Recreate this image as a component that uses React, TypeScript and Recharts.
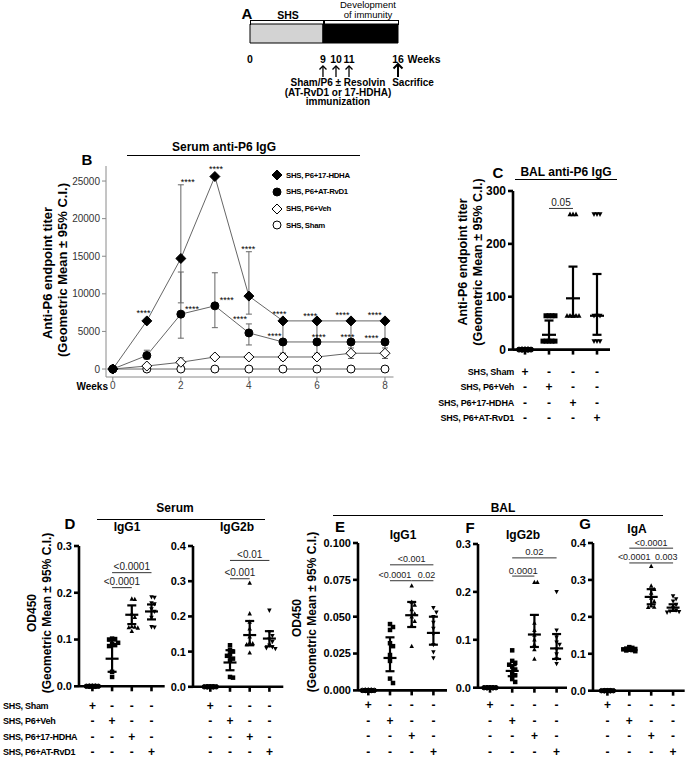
import {
  Bar,
  BarChart,
  ComposedChart,
  ErrorBar,
  Line,
  ReferenceLine,
  Scatter,
  ScatterChart,
  XAxis,
  YAxis,
} from "recharts"

const FONT = '"Liberation Sans", Arial, Helvetica, sans-serif'

// ---------- A: study timeline (weeks)
const timelineTicks = [0, 9, 10, 11, 16]
const timelineSegments = [{ k: "t", shs: 9, immunity: 7 }]
const immunizationWeeks = [9, 10, 11]
const sacrificeWeek = 16
// schematic, not to scale: where each tick sits along the bar (fraction of length)
const timelineStops = [0, 0.493, 0.581, 0.669, 1]

// ---------- B: serum anti-P6 IgG over time
const weeks = [0, 1, 2, 3, 4, 5, 6, 7, 8]
const hdhaTiter = [0, 6400, 14700, 25600, 9700, 6400, 6400, 6400, 6400]
const hdhaLo = [null, null, 8800, null, 7300, null, null, null, null]
const hdhaHi = [null, null, 24500, null, 15600, null, null, null, null]
const rvd1Titer = [0, 1800, 7300, 8400, 4800, 3600, 3600, 3600, 3600]
const rvd1Lo = [null, 1300, 4100, 5500, 3200, 2100, 2100, 2100, 2100]
const rvd1Hi = [null, 2500, 12900, 12800, 6000, 6400, 6400, 6400, 6400]
const vehTiter = [0, 400, 900, 1600, 1600, 1600, 1600, 2100, 2100]
const vehLo = [null, null, 500, null, null, 1200, null, 1400, 1400]
const vehHi = [null, null, 1500, null, null, 2100, null, 2800, 2800]
const shamTiter = [0, 0, 0, 0, 0, 0, 0, 0, 0]
const starWeeks = [0.9, 2.2, 2.33, 3.03, 3.35, 3.98, 3.74, 4.9, 4.75, 5.8, 6.05, 6.75, 6.9, 7.7, 7.6]
const starTiters = [7700, 25100, 8200, 26900, 9400, 16200, 6900, 7600, 4650, 7300, 4500, 7450, 4500, 7450, 4400]

const groupNames = ["SHS, Sham", "SHS, P6+Veh", "SHS, P6+17-HDHA", "SHS, P6+AT-RvD1"]

// significance bars: [from group, to group, height, p text, label shift px]
type Sig = [number, number, number, string, number]

// ---------- C: BAL anti-P6 IgG
const cSham = [0, 0, 0, 0, 0, 0, 0, 0]
const cVeh = [64, 64, 64, 64, 16, 16, 16, 16, 16]
const cHdha = [256, 256, 256, 64, 64, 64, 64, 64, 64]
const cRvd1 = [256, 256, 256, 64, 64, 64, 16, 16, 16]
const cMean = [0, 28, 97, 64]
const cLo = [0, 16, 64, 28]
const cHi = [0, 55, 157, 143]
const cSig: Sig[] = [[2, 3, 267, "0.05", 0]]

// ---------- D: serum IgG1 / IgG2b (OD450)
const zeros8 = [0, 0, 0, 0, 0, 0, 0, 0]
const d1Veh = [0.102, 0.101, 0.1, 0.093, 0.09, 0.088, 0.086, 0.031, 0.02]
const d1Hdha = [0.187, 0.186, 0.155, 0.148, 0.128, 0.127, 0.126, 0.125, 0.118]
const d1Rvd1 = [0.191, 0.19, 0.178, 0.176, 0.165, 0.16, 0.147, 0.127, 0.126]
const d1Mean = [0, 0.059, 0.153, 0.16]
const d1Lo = [0, 0.031, 0.133, 0.143]
const d1Hi = [0, 0.098, 0.173, 0.175]
const d1Sig: Sig[] = [
  [2, 3, 0.211, "<0.0001", 0],
  [2, 4, 0.243, "<0.0001", 0],
]

const d2Veh = [0.118, 0.105, 0.1, 0.092, 0.088, 0.08, 0.075, 0.028, 0.026]
const d2Hdha = [0.295, 0.208, 0.184, 0.165, 0.142, 0.125, 0.123, 0.12, 0.097]
const d2Rvd1 = [0.217, 0.156, 0.145, 0.135, 0.128, 0.118, 0.113, 0.11, 0.108]
const d2Mean = [0, 0.069, 0.147, 0.137]
const d2Lo = [0, 0.047, 0.118, 0.115]
const d2Hi = [0, 0.104, 0.187, 0.158]
const d2Sig: Sig[] = [
  [2, 3, 0.307, "<0.001", 0],
  [2, 4, 0.359, "<0.01", 0],
]

// ---------- E/F/G: BAL IgG1 / IgG2b / IgA (OD450)
const eVeh = [0.045, 0.043, 0.041, 0.032, 0.03, 0.024, 0.02, 0.008, 0.005]
const eHdha = [0.071, 0.06, 0.058, 0.055, 0.052, 0.05, 0.047, 0.044, 0.03]
const eRvd1 = [0.056, 0.053, 0.05, 0.046, 0.042, 0.038, 0.031, 0.026, 0.022]
const eMean = [0, 0.022, 0.051, 0.039]
const eLo = [0, 0.013, 0.043, 0.031]
const eHi = [0, 0.036, 0.06, 0.05]
const eSig: Sig[] = [
  [2, 4, 0.0852, "<0.001", 0],
  [2, 3, 0.0744, "<0.0001", -6],
  [3, 4, 0.0744, "0.02", 4],
]

const fVeh = [0.078, 0.056, 0.052, 0.048, 0.044, 0.038, 0.03, 0.026, 0.018, 0.012]
const fHdha = [0.22, 0.22, 0.135, 0.12, 0.11, 0.1, 0.09, 0.08, 0.06]
const fRvd1 = [0.2, 0.12, 0.105, 0.095, 0.09, 0.08, 0.07, 0.06, 0.05]
const fMean = [0, 0.035, 0.111, 0.082]
const fLo = [0, 0.024, 0.085, 0.06]
const fHi = [0, 0.047, 0.152, 0.112]
const fSig: Sig[] = [
  [2, 4, 0.271, "0.02", 0],
  [2, 3, 0.233, "0.0001", 0],
]

const gVeh = [0.118, 0.116, 0.114, 0.113, 0.112, 0.111, 0.11, 0.109, 0.107]
const gHdha = [0.337, 0.284, 0.275, 0.265, 0.251, 0.242, 0.23, 0.227, 0.226]
const gRvd1 = [0.256, 0.248, 0.242, 0.233, 0.224, 0.218, 0.215, 0.214, 0.212]
const gMean = [0, 0.111, 0.254, 0.225]
const gLo = [0, 0.108, 0.234, 0.216]
const gHi = [0, 0.114, 0.275, 0.234]
const gSig: Sig[] = [
  [2, 4, 0.386, "<0.0001", 0],
  [2, 3, 0.346, "<0.0001", -6],
  [3, 4, 0.346, "0.003", 4],
]

// ---------- helpers
function err(m: number, lo: number | null, hi: number | null) {
  return lo == null || hi == null ? null : [m - lo, hi - m]
}

const serumRows = weeks.map((w, i) => ({
  w,
  hdha: hdhaTiter[i],
  hdhaErr: err(hdhaTiter[i], hdhaLo[i], hdhaHi[i]),
  rvd1: rvd1Titer[i],
  rvd1Err: err(rvd1Titer[i], rvd1Lo[i], rvd1Hi[i]),
  veh: vehTiter[i],
  vehErr: err(vehTiter[i], vehLo[i], vehHi[i]),
  sham: shamTiter[i],
}))
const stars = starWeeks.map((w, i) => ({ w, v: starTiters[i] }))

// piecewise scale so the schematic timeline can space its ticks like the drawing
function schematicScale(knots: number[], stops: number[], dom = [0, 1], rng = [0, 1]): any {
  const f: any = (v: number) => {
    let t = v <= knots[0] ? stops[0] : stops[stops.length - 1]
    for (let i = 0; i < knots.length - 1; i++) {
      if (v >= knots[i] && v <= knots[i + 1]) {
        t = stops[i] + ((v - knots[i]) / (knots[i + 1] - knots[i])) * (stops[i + 1] - stops[i])
        break
      }
    }
    return rng[0] + t * (rng[1] - rng[0])
  }
  f.domain = (d?: number[]) => (d ? schematicScale(knots, stops, d, rng) : dom)
  f.range = (r?: number[]) => (r ? schematicScale(knots, stops, dom, r) : rng)
  f.copy = () => schematicScale(knots, stops, dom, rng)
  f.ticks = () => knots
  f.invert = (px: number) => knots[0] + ((px - rng[0]) / (rng[1] - rng[0])) * (knots[knots.length - 1] - knots[0])
  return f
}

function T({ x, y, s = 12, b = true, a = "middle", ls, children }: any) {
  const tx = a === "middle" ? "-50%" : a === "end" ? "-100%" : "0"
  return (
    <div
      style={{
        position: "absolute",
        left: x,
        top: y,
        transform: `translate(${tx},-50%)`,
        fontSize: s,
        fontWeight: b ? 700 : 400,
        whiteSpace: "nowrap",
        lineHeight: 1,
        letterSpacing: ls,
      }}
    >
      {children}
    </div>
  )
}

function VT({ x, y, s = 12, children }: any) {
  return (
    <div
      style={{
        position: "absolute",
        left: x,
        top: y,
        transform: "translate(-50%,-50%) rotate(-90deg)",
        fontSize: s,
        fontWeight: 700,
        whiteSpace: "nowrap",
        lineHeight: 1,
      }}
    >
      {children}
    </div>
  )
}

function HL({ x1, x2, y }: any) {
  return <div style={{ position: "absolute", left: x1, top: y, width: x2 - x1, borderTop: "1px solid #000" }} />
}

function Mark({ kind, cx, cy, s = 4.5, fill = "#000" }: any) {
  if (cx == null || cy == null) return <g />
  const h = s / 2
  if (kind === "sq") return <rect x={cx - h} y={cy - h} width={s} height={s} fill={fill} />
  if (kind === "up")
    return <polygon points={`${cx},${cy - h * 1.1} ${cx + h},${cy + h * 0.8} ${cx - h},${cy + h * 0.8}`} fill={fill} />
  if (kind === "down")
    return <polygon points={`${cx},${cy + h * 1.1} ${cx + h},${cy - h * 0.8} ${cx - h},${cy - h * 0.8}`} fill={fill} />
  if (kind === "dia")
    return <polygon points={`${cx},${cy - h} ${cx + h},${cy} ${cx},${cy + h} ${cx - h},${cy}`} fill={fill} stroke="#000" strokeWidth={1} />
  return <circle cx={cx} cy={cy} r={h} fill={fill} stroke="#000" strokeWidth={1} />
}

function TimelineTick({ x, y, payload }: any) {
  const v = payload.value
  const big = v === sacrificeWeek
  const arrow = big || immunizationWeeks.includes(v)
  const top = y + (big ? 21 : 23)
  const w = big ? 4.5 : 3.5
  return (
    <g>
      <text x={x} y={y + 16} textAnchor="middle" dominantBaseline="central" fontSize={10.5} fontWeight={700} fontFamily={FONT}>
        {v}
      </text>
      {arrow && (
        <g stroke="#000" strokeWidth={big ? 2 : 1.3} fill="none">
          <line x1={x} x2={x} y1={top} y2={y + 34} />
          <polyline points={`${x - w},${top + w} ${x},${top} ${x + w},${top + w}`} />
        </g>
      )}
    </g>
  )
}

const lineDot = (kind: string, size: number, fill: string) => (p: any) => (
  <Mark key={p.index} kind={kind} cx={p.cx} cy={p.cy} s={size} fill={fill} />
)

function StarLabel(p: any) {
  return (
    <text x={p.cx} y={p.cy + 5} textAnchor="middle" fontSize={9} fontFamily={FONT} fill="#000">
      ****
    </text>
  )
}

// beeswarm-like horizontal spread of overlapping points
function swarm(values: number[], cat: number, pxPerY: number, sp: number, size: number) {
  const step = 3
  const order = [0, 1, -1, 2, -2]
  const placed: { dx: number; py: number }[] = []
  return [...values]
    .sort((a, b) => b - a)
    .map((v) => {
      const py = v * pxPerY
      let dx = 0
      let best = Infinity
      for (const k of order) {
        const n = placed.filter((q) => Math.abs(q.dx - k * step) < step * 0.9 && Math.abs(q.py - py) < size).length
        if (n < best) {
          best = n
          dx = k * step
        }
        if (n === 0) break
      }
      placed.push({ dx, py })
      return { x: cat + dx / sp, y: v }
    })
}

function PlusMinus({ x, payload, rows }: any) {
  return (
    <g>
      {rows.map((ry: number, r: number) => (
        <text key={r} x={x} y={ry} textAnchor="middle" dominantBaseline="central" fontSize={12} fontWeight={700} fontFamily={FONT} fill="#000">
          {r === payload.value - 1 ? "+" : "-"}
        </text>
      ))}
    </g>
  )
}

const kinds = ["ci", "sq", "up", "down"]

function ColumnPanel({ p }: any) {
  const YW = 42
  const TOP = 24
  const left = p.plotL - YW
  const top = p.plotT - TOP
  const plotH = p.plotB - p.plotT
  const xh = p.rows[3] + 9 - p.plotB
  const width = p.plotR - p.plotL + YW + 3
  const height = TOP + plotH + xh
  const d0 = 1 - (p.cat1 - p.plotL) / p.sp
  const d1 = 1 + (p.plotR - p.cat1) / p.sp
  const pxPerY = plotH / p.ymax
  const size = p.size ?? 4.5
  const summary = [0, 1, 2, 3].map((i) => ({
    x: i + 1,
    y: p.mean[i],
    err: [p.mean[i] - p.lo[i], p.hi[i] - p.mean[i]],
  }))
  const sigText = p.sig.map(([a, b, y, t, dx]: Sig) => ({ x: (a + b) / 2 + dx / p.sp, y, t }))
  const rowsLocal = p.rows.map((r: number) => r - top)
  const axisStyle = { stroke: "#000", strokeWidth: 2.6 }
  return (
    <div style={{ position: "absolute", left, top }}>
      <ScatterChart width={width} height={height} margin={{ top: TOP, right: 3, left: 0, bottom: 0 }}>
        <XAxis
          type="number"
          dataKey="x"
          domain={[d0, d1]}
          ticks={[1, 2, 3, 4]}
          interval={0}
          height={xh}
          axisLine={axisStyle}
          tickLine={axisStyle}
          tickSize={5}
          tick={(t: any) => <PlusMinus {...t} rows={rowsLocal} />}
        />
        <YAxis
          type="number"
          dataKey="y"
          domain={[0, p.ymax]}
          ticks={p.ticks}
          interval={0}
          width={YW}
          axisLine={axisStyle}
          tickLine={axisStyle}
          tickSize={5}
          tickMargin={2}
          tick={{ fill: "#000", fontSize: p.tickFont, fontWeight: 700, fontFamily: FONT }}
          tickFormatter={(v: number) => v.toFixed(p.digits)}
        />
        {p.groups.map((g: number[], i: number) => (
          <Scatter
            key={i}
            data={swarm(g, i + 1, pxPerY, p.sp, size)}
            isAnimationActive={false}
            shape={(s: any) => <Mark kind={kinds[i]} cx={s.cx} cy={s.cy} s={size} />}
          />
        ))}
        <Scatter
          data={summary}
          isAnimationActive={false}
          shape={(s: any) => (
            <line x1={s.cx - p.meanW / 2} x2={s.cx + p.meanW / 2} y1={s.cy} y2={s.cy} stroke="#000" strokeWidth={2.2} />
          )}
        >
          <ErrorBar dataKey="err" direction="y" width={4.5} stroke="#000" strokeWidth={2.2} isAnimationActive={false} />
        </Scatter>
        {p.sig.map(([a, b, y]: Sig, i: number) => (
          <ReferenceLine
            key={i}
            segment={[
              { x: a, y },
              { x: b, y },
            ]}
            stroke="#333"
            strokeWidth={1}
          />
        ))}
        <Scatter
          data={sigText}
          isAnimationActive={false}
          shape={(s: any) => (
            <text x={s.cx} y={s.cy - 2.5} textAnchor="middle" fontSize={p.sigFont} fill="#222" fontFamily={FONT}>
              {s.payload?.t ?? s.t}
            </text>
          )}
        />
      </ScatterChart>
    </div>
  )
}

const rowsBottom = [705.5, 721, 736.5, 752]

const panelC = {
  plotL: 513, plotR: 610, plotT: 190.7, plotB: 349.3, cat1: 525, sp: 24, ymax: 300,
  ticks: [0, 100, 200, 300], digits: 0, tickFont: 12, rows: [372, 387, 402.5, 418], meanW: 14, size: 5, sigFont: 10,
  groups: [cSham, cVeh, cHdha, cRvd1], mean: cMean, lo: cLo, hi: cHi, sig: cSig,
}
const panelD1 = {
  plotL: 79.3, plotR: 165, plotT: 545.7, plotB: 686, cat1: 92.7, sp: 19.7, ymax: 0.3,
  ticks: [0, 0.1, 0.2, 0.3], digits: 1, tickFont: 11, rows: rowsBottom, meanW: 13, sigFont: 10,
  groups: [zeros8, d1Veh, d1Hdha, d1Rvd1], mean: d1Mean, lo: d1Lo, hi: d1Hi, sig: d1Sig,
}
const panelD2 = {
  plotL: 192.7, plotR: 283, plotT: 545.7, plotB: 686.5, cat1: 210, sp: 19.7, ymax: 0.4,
  ticks: [0, 0.1, 0.2, 0.3, 0.4], digits: 1, tickFont: 11, rows: rowsBottom, meanW: 13, sigFont: 10,
  groups: [zeros8, d2Veh, d2Hdha, d2Rvd1], mean: d2Mean, lo: d2Lo, hi: d2Hi, sig: d2Sig,
}
const panelE = {
  plotL: 358, plotR: 447, plotT: 543.3, plotB: 690.7, cat1: 368.3, sp: 21.7, ymax: 0.1,
  ticks: [0, 0.025, 0.05, 0.075, 0.1], digits: 3, tickFont: 11, rows: rowsBottom, meanW: 13, sigFont: 9,
  groups: [zeros8, eVeh, eHdha, eRvd1], mean: eMean, lo: eLo, hi: eHi, sig: eSig,
}
const panelF = {
  plotL: 478, plotR: 567, plotT: 544.3, plotB: 688, cat1: 490, sp: 22.2, ymax: 0.3,
  ticks: [0, 0.1, 0.2, 0.3], digits: 1, tickFont: 11, rows: rowsBottom, meanW: 13, sigFont: 9.5,
  groups: [zeros8, fVeh, fHdha, fRvd1], mean: fMean, lo: fLo, hi: fHi, sig: fSig,
}
const panelG = {
  plotL: 593.3, plotR: 685, plotT: 543.3, plotB: 691, cat1: 607.7, sp: 21.9, ymax: 0.4,
  ticks: [0, 0.1, 0.2, 0.3, 0.4], digits: 1, tickFont: 11, rows: rowsBottom, meanW: 13, sigFont: 9,
  groups: [zeros8, gVeh, gHdha, gRvd1], mean: gMean, lo: gLo, hi: gHi, sig: gSig,
}

const legendItems = [
  { name: "SHS, P6+17-HDHA", kind: "dia", s: 10, fill: "#000" },
  { name: "SHS, P6+AT-RvD1", kind: "ci", s: 8, fill: "#000" },
  { name: "SHS, P6+Veh", kind: "dia", s: 10, fill: "#fff" },
  { name: "SHS, Sham", kind: "ci", s: 8, fill: "#fff" },
]

export default function App() {
  const grayAxis = { stroke: "#8a8a8a" }
  return (
    <div
      style={{
        position: "absolute",
        left: 0,
        top: 0,
        width: 689,
        height: 759,
        overflow: "hidden",
        background: "#fff",
        fontFamily: FONT,
        color: "#000",
      }}
    >
      {/* A */}
      <div style={{ position: "absolute", left: 240, top: 0 }}>
        <BarChart
          layout="vertical"
          width={240}
          height={110}
          data={timelineSegments}
          margin={{ top: 24, right: 82, left: 10, bottom: 22 }}
          barCategoryGap={0}
        >
          <XAxis
            type="number"
            domain={[0, 16]}
            ticks={timelineTicks}
            interval={0}
            scale={schematicScale(timelineTicks, timelineStops)}
            axisLine={false}
            tickLine={false}
            tickSize={0}
            tickMargin={0}
            height={45}
            tick={<TimelineTick />}
          />
          <YAxis type="category" dataKey="k" hide />
          <Bar dataKey="shs" stackId="t" fill="#d3d3d3" stroke="#000" strokeWidth={1} isAnimationActive={false} />
          <Bar dataKey="immunity" stackId="t" fill="#000" stroke="#000" strokeWidth={1} isAnimationActive={false} />
        </BarChart>
      </div>
      <T x={247} y={13} s={15}>A</T>
      <T x={288} y={15} s={10.5}>SHS</T>
      <T x={368} y={5} s={9.5} b={false}>Development</T>
      <T x={368} y={15} s={9.5} b={false}>of immunity</T>
      <div style={{ position: "absolute", left: 250, top: 20, width: 72, height: 4, border: "1px solid #000", borderBottom: "none" }} />
      <div style={{ position: "absolute", left: 324, top: 20, width: 73, height: 4, border: "1px solid #000", borderBottom: "none" }} />
      <T x={424} y={59} s={10.5}>Weeks</T>
      <T x={338} y={82.5} s={10}>Sham/P6 ± Resolvin</T>
      <T x={338} y={92.5} s={10}>(AT-RvD1 or 17-HDHA)</T>
      <T x={338} y={102} s={10}>immunization</T>
      <T x={413} y={82.5} s={10}>Sacrifice</T>

      {/* B */}
      <div style={{ position: "absolute", left: 0, top: 140 }}>
        <ComposedChart width={400} height={260} data={serumRows} margin={{ top: 26, right: 6.5, left: 0, bottom: 3 }}>
          <XAxis
            type="number"
            dataKey="w"
            domain={[-0.2, 8.25]}
            ticks={[0, 2, 4, 6, 8]}
            interval={0}
            allowDataOverflow
            height={20}
            axisLine={grayAxis}
            tickLine={grayAxis}
            tickSize={4}
            tickMargin={1}
            tick={{ fill: "#444", fontSize: 10, fontFamily: FONT }}
          />
          <YAxis
            type="number"
            domain={[-1060, 27000]}
            ticks={[0, 5000, 10000, 15000, 20000, 25000]}
            interval={0}
            allowDataOverflow
            width={106}
            axisLine={grayAxis}
            tickLine={grayAxis}
            tickSize={4}
            tickMargin={2}
            tick={{ fill: "#333", fontSize: 10, fontFamily: FONT }}
          />
          <Line dataKey="sham" stroke="#666" strokeWidth={1} isAnimationActive={false} dot={lineDot("ci", 8, "#fff")} />
          <Line dataKey="veh" stroke="#666" strokeWidth={1} isAnimationActive={false} dot={lineDot("dia", 10, "#fff")}>
            <ErrorBar dataKey="vehErr" direction="y" width={3} stroke="#666" strokeWidth={1} isAnimationActive={false} />
          </Line>
          <Line dataKey="rvd1" stroke="#666" strokeWidth={1} isAnimationActive={false} dot={lineDot("ci", 8, "#000")}>
            <ErrorBar dataKey="rvd1Err" direction="y" width={3} stroke="#666" strokeWidth={1} isAnimationActive={false} />
          </Line>
          <Line dataKey="hdha" stroke="#666" strokeWidth={1} isAnimationActive={false} dot={lineDot("dia", 10, "#000")}>
            <ErrorBar dataKey="hdhaErr" direction="y" width={3} stroke="#666" strokeWidth={1} isAnimationActive={false} />
          </Line>
          <Scatter data={stars} dataKey="v" isAnimationActive={false} shape={StarLabel} />
        </ComposedChart>
      </div>
      <T x={87} y={159} s={15}>B</T>
      <T x={224} y={147} s={12}>Serum anti-P6 IgG</T>
      <HL x1={127} x2={360} y={155} />
      <VT x={47} y={273} s={13}>Anti-P6 endpoint titer</VT>
      <VT x={62} y={270} s={13}>(Geometric Mean ± 95% C.I.)</VT>
      <T x={108} y={387} s={10} a="end">Weeks</T>
      {legendItems.map((it, i) => (
        <div key={it.name} style={{ position: "absolute", left: 271, top: 175 + i * 16.8, transform: "translateY(-50%)", display: "flex", alignItems: "center" }}>
          <svg width={12} height={12}>
            <Mark kind={it.kind} cx={6} cy={6} s={it.s} fill={it.fill} />
          </svg>
          <span style={{ marginLeft: 3, fontSize: 7.8, fontWeight: 700, letterSpacing: -0.3, whiteSpace: "nowrap" }}>{it.name}</span>
        </div>
      ))}

      {/* C */}
      <ColumnPanel p={panelC} />
      <T x={498} y={172} s={15}>C</T>
      <T x={566} y={172} s={12}>BAL anti-P6 IgG</T>
      <HL x1={515} x2={617} y={179} />
      <VT x={463} y={262} s={12.5}>Anti-P6 endpoint titer</VT>
      <VT x={478} y={262} s={12.5}>(Geometric Mean ± 95% C.I.)</VT>
      {groupNames.map((n, i) => (
        <T key={n} x={514} y={panelC.rows[i]} s={9} a="end" ls={-0.2}>{n}</T>
      ))}

      {/* D */}
      <ColumnPanel p={panelD1} />
      <ColumnPanel p={panelD2} />
      <T x={175} y={508} s={12}>Serum</T>
      <HL x1={97} x2={265} y={519} />
      <T x={70} y={523} s={15}>D</T>
      <T x={127} y={527} s={12}>IgG1</T>
      <T x={237} y={527} s={12}>IgG2b</T>
      <VT x={32} y={613} s={12}>OD450</VT>
      <VT x={47} y={613} s={12}>(Geometric Mean ± 95% C.I.)</VT>
      {groupNames.map((n, i) => (
        <T key={n} x={3} y={rowsBottom[i]} s={9} a="start" ls={-0.3}>{n}</T>
      ))}

      {/* E F G */}
      <ColumnPanel p={panelE} />
      <ColumnPanel p={panelF} />
      <ColumnPanel p={panelG} />
      <T x={503} y={508} s={12}>BAL</T>
      <HL x1={333} x2={663} y={515} />
      <T x={340} y={526} s={15}>E</T>
      <T x={403} y={535} s={12}>IgG1</T>
      <T x={470} y={527} s={15}>F</T>
      <T x={523} y={535} s={12}>IgG2b</T>
      <T x={585} y={523} s={15}>G</T>
      <T x={637} y={529} s={12}>IgA</T>
      <VT x={297} y={618} s={12}>OD450</VT>
      <VT x={312} y={612} s={12}>(Geometric Mean ± 95% C.I.)</VT>
    </div>
  )
}
